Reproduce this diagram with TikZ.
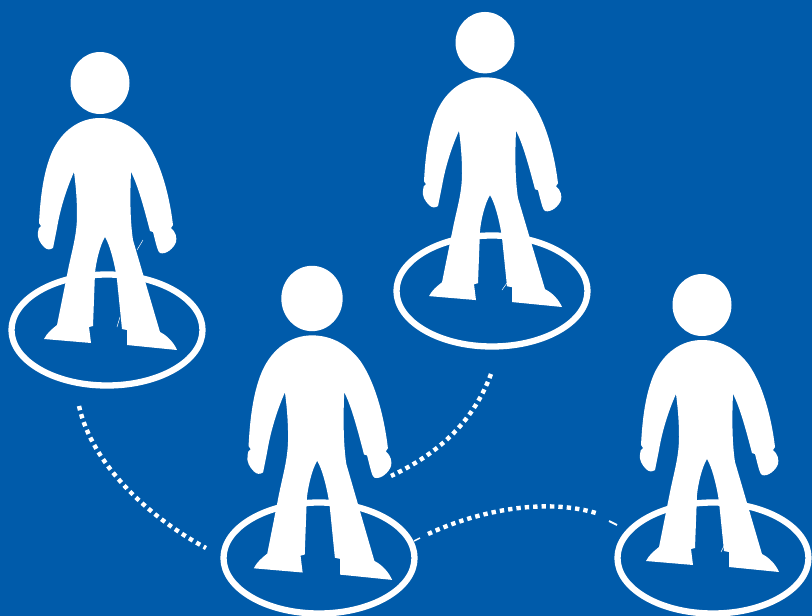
\documentclass[tikz,border=0pt]{standalone}
\usetikzlibrary{shapes.geometric}
\definecolor{bgblue}{RGB}{0,91,170}
\tikzset{
  ring/.style={ellipse,draw=white,line width=6.3pt,minimum width=191pt,minimum height=111pt,inner sep=0pt,outer sep=0pt},
  link/.style={draw=white,line width=4.4pt,dash pattern=on 4.4pt off 4pt},
  tick/.style={draw=white,line width=.5pt},
  person/.pic={
    \fill[white] (100,83) ellipse [x radius=29.5,y radius=31];
    \fill[white] (100,118) .. controls (120,118) and (136,128) .. (147,143)
      .. controls (160,162) and (169,192) .. (173,225)
      -- (171,228) .. controls (176,232) and (177,238) .. (176,242)
      .. controls (174,248) and (166,255) .. (160,253)
      .. controls (158,252) and (157,248) .. (153,232) -- (150,231)
      .. controls (145,212) and (138,185) .. (131,172)
      .. controls (130,195) and (130,220) .. (133,240)
      -- (160,332) .. controls (168,336) and (174,343) .. (177,350)
      -- (127,345) -- (127,330) -- (122,329) -- (117,280)
      .. controls (115,265) and (110,245) .. (105,237)
      .. controls (100,245) and (96,262) .. (95,273)
      -- (93,326) -- (89,327) -- (91,343) -- (44,339)
      .. controls (47,333) and (52,329) .. (57,325)
      -- (68,270) .. controls (72,250) and (77,235) .. (77,215)
      .. controls (77,195) and (75,180) .. (74,172)
      .. controls (66,190) and (60,210) .. (57,228)
      -- (53,248) .. controls (50,250) and (47,250) .. (44,247)
      .. controls (40,243) and (37,238) .. (38,232)
      .. controls (38,229) and (39,227) .. (41,226) -- (39,223)
      .. controls (40,205) and (42,175) .. (52,152)
      .. controls (62,130) and (80,118) .. (100,118) -- cycle;
  }
}
\begin{document}
\begin{tikzpicture}[x=1pt,y=-1pt]
\clip (0,0) rectangle (812,616);
\fill[bgblue] (0,0) rectangle (812,616);
\node[ring] (r1) at (107,330) {};
\node[ring] (r2) at (492,291) {};
\node[ring] (r3) at (319,558) {};
\node[ring] (r4) at (713,558) {};
\pic at (0,0) {person};
\pic[shift={(385,-39.5)},yscale=.99] at (0,0) {person};
\pic[shift={(208,211)},xscale=1.04,yscale=1.054] at (0,0) {person};
\pic[shift={(602,222)}] at (0,0) {person};
\draw[tick] (143,240) -- (137,250);
\draw[tick] (117,327) -- (120,317);
\draw[tick] (507,283) -- (502,290);
\draw[tick] (724,546) -- (721,552);
\coordinate (a1) at (79,406);
\coordinate (a2) at (206,548);
\coordinate (b1) at (491,374);
\coordinate (b2) at (391,476);
\coordinate (c1) at (428,534);
\coordinate (c2) at (596,513);
\coordinate (d1) at (414,541);
\coordinate (d2) at (420,538);
\coordinate (e1) at (609,521);
\coordinate (e2) at (617,525);
\path[link] (a1) .. controls (92,465) and (150,518) .. (a2);
\path[link] (b1) .. controls (472,425) and (435,455) .. (b2);
\path[link] (c1) .. controls (480,510) and (545,498) .. (c2);
\draw[tick,line width=1.5pt] (d1) -- (d2);
\draw[tick,line width=2pt] (e1) -- (e2);
\end{tikzpicture}
\end{document}
